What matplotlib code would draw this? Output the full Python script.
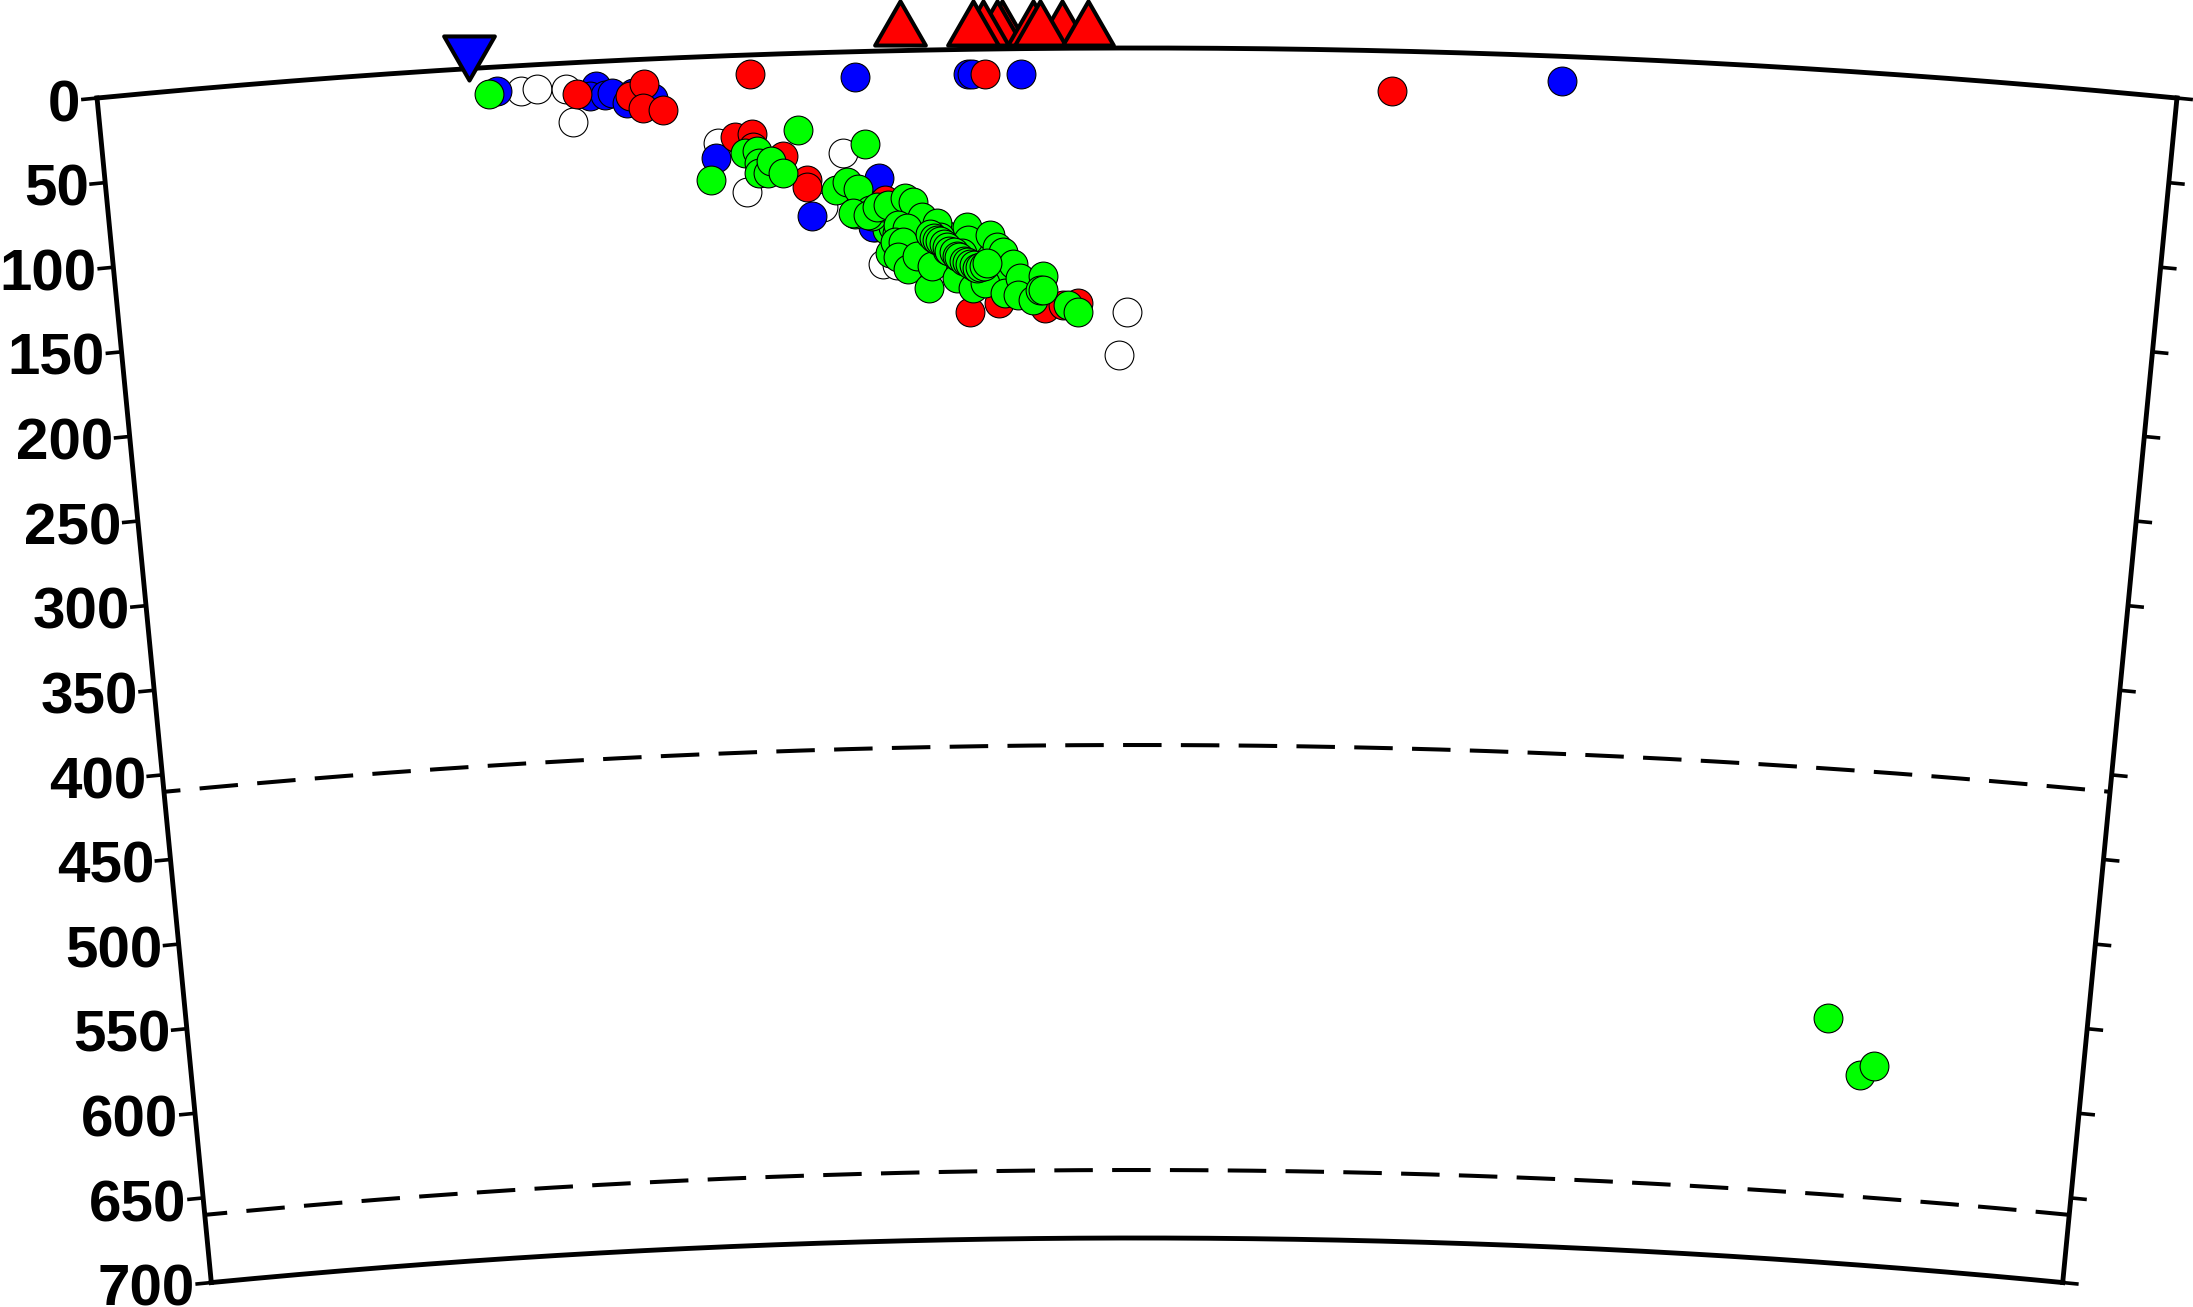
import numpy as np
import matplotlib
matplotlib.use("Agg")
import matplotlib.pyplot as plt
from matplotlib.markers import MarkerStyle
from matplotlib.path import Path

# Earthquake section: distance along the surface (km from section centre), depth (km)
white_dist = [-363.2, -353.7, -336.6, -333.5, -248.7, -232.5, -187.4, -174.6, -156.7, -152.4, -144.0, -6.0, -10.9]
white_depth = [15.0, 14.3, 15.2, 34.8, 51.1, 80.5, 90.8, 59.4, 103.4, 125.2, 126.0, 155.3, 180.6]

blue_dist = [-377.4, -319.3, -323.2, -313.8, -310.1, -297.7, -301.5, -286.0, -166.3, -99.6, -97.3, -68.4, 250.8,
             -250.2, -194.2, -153.6, -157.9]
blue_depth = [14.2, 14.4, 20.0, 19.9, 19.0, 19.6, 25.3, 23.0, 14.9, 14.5, 14.5, 14.9, 14.5,
              59.8, 95.9, 74.7, 103.4]

red_dist = [-330.8, -299.5, -291.0, -292.2, -280.4, -228.2, -89.6, 150.6, -238.5, -228.3, -228.0, -210.3,
            -196.5, -196.6, -150.3, -100.7, -83.2, -55.4, -44.6, -35.5]
red_depth = [18.6, 21.2, 14.6, 28.6, 30.4, 11.2, 14.7, 23.5, 48.0, 46.6, 54.2, 60.1,
             74.6, 78.8, 87.7, 154.5, 149.5, 152.7, 151.0, 149.9]

green_dist = [-122.0, -125.0, -119.7, -116.2, -112.0, -107.9, -106.1, -102.0, -98.5, -95.4, -92.4, -95.4,
              -149.5, -148.0,
              -125.7, -122.0, -116.7, -110.1, -114.0, -108.0, -100.1, -93.1, -94.1, -87.0, -86.5,
              -130.2, -134.3, -145.9, -143.6,
              -382.2, -253.7, -200.9, -232.8, -225.6, -224.8, -225.0, -219.6, -217.6, -210.6, -161.4,
              -179.4, -172.7, -166.3, -168.5, -159.5, -158.3, -151.6,
              -169.7, -160.7, -155.2, -148.6, -138.4, -133.7, -128.5, -142.9, -137.5, -145.0, -140.1,
              -143.3, -137.5, -131.9, -125.1, -123.0, -119.5, -117.9, -113.9, -108.2, -101.7, -101.2,
              -104.9, -98.6, -97.2, -91.3, -88.0, -83.9, -80.3, -74.4, -79.4, -70.3, -71.6, -62.6,
              -124.0, -121.5, -120.0, -118.0, -115.5, -114.0, -112.5, -110.0, -108.0, -106.5, -104.0,
              -102.0, -100.5, -98.0, -96.0, -94.5, -92.0, -90.0,
              -56.5, -58.4, -56.5, -41.6, -35.5,
              445.6, 468.7, 477.4]
green_depth = [107.7, 108.8, 111.8, 113.1, 116.1, 119.7, 123.8, 125.7, 128.1, 128.1, 127.0, 124.0,
               105.3, 118.9,
               111.7, 106.0, 107.8, 110.3, 123.7, 123.8, 123.9, 128.2, 119.9, 125.9, 134.1,
               127.5, 119.2, 103.7, 107.2,
               15.7, 72.6, 45.1, 57.6, 56.6, 63.7, 69.6, 69.8, 62.8, 70.1, 54.5,
               81.0, 76.5, 80.8, 95.4, 93.4, 96.9, 91.7,
               94.9, 96.2, 91.7, 90.7, 86.7, 89.2, 98.1, 102.5, 104.5, 112.5, 112.6,
               121.3, 128.6, 121.1, 140.0, 127.1, 101.8, 110.1, 117.8, 134.4, 104.5, 112.1,
               119.8, 140.5, 128.1, 137.6, 109.4, 116.6, 119.5, 126.7, 143.6, 134.9, 144.9, 147.9,
               108.0, 110.5, 112.0, 112.5, 114.5, 116.0, 118.5, 119.0, 121.5, 122.0, 124.5,
               125.0, 126.5, 127.0, 128.5, 128.0, 127.5, 126.0,
               133.9, 142.1, 142.2, 151.1, 155.2,
               556.4, 588.4, 582.5]

# Stations above the surface (negative depth = marker centre height)
station_dist = [-79.4, -82.4, -90.6, -96.5, -138.8, -61.2, -44.1, -57.1, -28.8]
station_depth = [-15.3, -15.3, -15.5, -15.5, -16.3, -15.1, -15.0, -15.1, -14.9]
source_dist = [-392.7]
source_depth = [-6.4]

depth_ticks = [0, 50, 100, 150, 200, 250, 300, 350, 400, 450, 500, 550, 600, 650, 700]
discontinuities = [410, 660]
dash_offsets_px = [22, 16]

EARTH_R = 6371.0
HALF_ANGLE = 5.51  # degrees
KM_PX = 1.7
W, H = 2193, 1307
CX, TOP = 1137.0, 48.0


def to_xy(dist, depth):
    """Polar section position: surface distance (km) and depth (km) to section km."""
    th = np.asarray(dist, float) / EARTH_R
    r = EARTH_R - np.asarray(depth, float)
    return r * np.sin(th), r * np.cos(th)


def arc(depth, half=HALF_ANGLE, n=300):
    d = np.radians(half) * EARTH_R
    return to_xy(np.linspace(-d, d, n), np.full(n, depth))


fig = plt.figure(figsize=(W / 100, H / 100), dpi=100, facecolor="white")
ax = fig.add_axes([0, 0, 1, 1])
ax.set_xlim(-CX / KM_PX, (W - CX) / KM_PX)
ax.set_ylim(EARTH_R - (H - TOP) / KM_PX, EARTH_R + TOP / KM_PX)
ax.axis("off")

LW = 3.5
PT = 0.72  # points per pixel
# Frame
edge_d = np.radians(HALF_ANGLE) * EARTH_R
for dep in (0, 700):
    ax.plot(*arc(dep), color="black", lw=LW, solid_capstyle="projecting", zorder=3)
for sgn in (-1, 1):
    deps = np.linspace(0, 700, 50)
    ax.plot(*to_xy(np.full(50, sgn * edge_d), deps), color="black", lw=LW,
            solid_capstyle="projecting", zorder=3)

# Discontinuities
DASH_LW = 2.9
for dep, off in zip(discontinuities, dash_offsets_px):
    ax.plot(*arc(dep), color="black", lw=DASH_LW, dash_capstyle="butt", zorder=2,
            linestyle=(off * PT / DASH_LW, (38.5 * PT / DASH_LW, 19.3 * PT / DASH_LW)))

# Ticks and labels
tick_len = 16 / KM_PX
for dep in depth_ticks:
    r = EARTH_R - dep
    for sgn in (-1, 1):
        d0 = sgn * edge_d
        d1 = sgn * (edge_d + tick_len * EARTH_R / r)
        ax.plot(*to_xy([d0, d1], [dep, dep]), color="black", lw=2.6, solid_capstyle="butt", zorder=3)
    lx, ly = to_xy([-(edge_d + (tick_len + 0.3) * EARTH_R / r)], [dep])
    ax.annotate(str(dep), xy=(lx[0], ly[0]), xytext=(0, -21.5 * PT), textcoords="offset points",
                ha="right", va="baseline", family="Liberation Sans", fontweight="bold",
                fontsize=42, color="black", zorder=4, annotation_clip=False)

# Events
for xs, ds, col, z in ((white_dist, white_depth, "white", 5),
                       (blue_dist, blue_depth, "#0000ff", 6),
                       (red_dist, red_depth, "#ff0000", 7),
                       (green_dist, green_depth, "#00ff00", 8)):
    px, py = to_xy(xs, ds)
    ax.scatter(px, py, s=430, c=col, edgecolors="black", linewidths=0.8, zorder=z, clip_on=False)

# Stations
tri_up = Path([(-1, -0.87), (1, -0.87), (0, 0.87), (-1, -0.87)], closed=True)
tri_dn = Path([(-1, 0.87), (1, 0.87), (0, -0.87), (-1, 0.87)], closed=True)
sx, sy = to_xy(station_dist, station_depth)
for i, (a, b) in enumerate(zip(sx, sy)):
    ax.plot([a], [b], linestyle="none", marker=MarkerStyle(tri_up, joinstyle="miter"), markersize=36.5,
            markerfacecolor="#ff0000", markeredgecolor="black", markeredgewidth=2.9, zorder=9 + i * 0.01,
            clip_on=False)
bx, by = to_xy(source_dist, source_depth)
ax.plot(bx, by, linestyle="none", marker=MarkerStyle(tri_dn, joinstyle="miter"), markersize=36.5,
        markerfacecolor="#0000ff", markeredgecolor="black", markeredgewidth=2.9, zorder=10, clip_on=False)

fig.savefig("out.png", dpi=100, facecolor="white")
